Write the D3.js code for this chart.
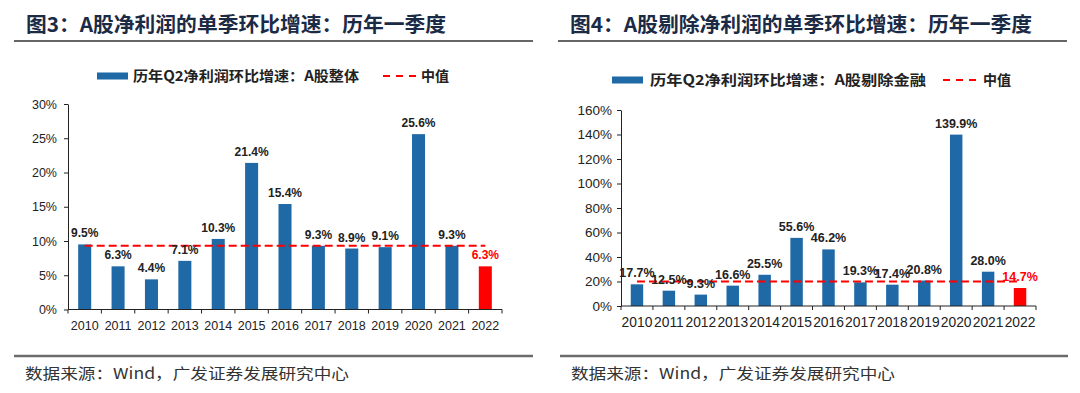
<!DOCTYPE html>
<html>
<head>
<meta charset="utf-8">
<script src="https://cdn.jsdelivr.net/npm/d3@7"></script>
<style>
  body { margin: 0; background: #fff; }
  svg text { font-family: "Liberation Sans", Arial, sans-serif; }
  .cjk { font-family: "Noto Sans CJK SC", "Liberation Sans", sans-serif; }
</style>
</head>
<body>
<svg id="chart" width="1080" height="393"></svg>
<script>
// data
var years = ["2010","2011","2012","2013","2014","2015","2016","2017","2018","2019","2020","2021","2022"];
var growthAll = [9.5, 6.3, 4.4, 7.1, 10.3, 21.4, 15.4, 9.3, 8.9, 9.1, 25.6, 9.3, 6.3];
var growthExFin = [17.7, 12.5, 9.3, 16.6, 25.5, 55.6, 46.2, 19.3, 17.4, 20.8, 139.9, 28.0, 14.7];
var medianAll = 9.3;
var medianExFin = 20.0;
var ticksAll = [0, 5, 10, 15, 20, 25, 30];
var ticksExFin = [0, 20, 40, 60, 80, 100, 120, 140, 160];

var BLUE = "#1f69a6", RED = "#ff0000";

var svg = d3.select("#chart");
svg.append("rect").attr("width", 1080).attr("height", 393).attr("fill", "#fff");

function drawPanel(cfg) {
  var g = svg.append("g");

  // title + rule
  g.append("text").attr("class", "cjk")
      .attr("x", cfg.titleX).attr("y", 32)
      .attr("font-size", 20.5).attr("font-weight", 700)
      .attr("fill", "#1b2a45")
      .attr("textLength", cfg.titleLen).attr("lengthAdjust", "spacingAndGlyphs")
      .text(cfg.title);
  g.append("line")
      .attr("x1", cfg.ruleX[0]).attr("x2", cfg.ruleX[1])
      .attr("y1", 41).attr("y2", 41)
      .attr("stroke", "#333").attr("stroke-width", 1.3);

  // legend
  var ly = cfg.legendY;
  g.append("rect").attr("x", cfg.legend[0]).attr("y", ly - 3.5)
      .attr("width", 31).attr("height", 7).attr("fill", BLUE);
  g.append("text").attr("class", "cjk")
      .attr("x", cfg.legend[1]).attr("y", ly + 5)
      .attr("font-size", 14).attr("font-weight", 700).attr("fill", "#222")
      .attr("textLength", cfg.legendLen).attr("lengthAdjust", "spacingAndGlyphs")
      .text(cfg.legendText);
  g.append("line")
      .attr("x1", cfg.legend[2]).attr("x2", cfg.legend[2] + 33)
      .attr("y1", ly).attr("y2", ly)
      .attr("stroke", RED).attr("stroke-width", 2).attr("stroke-dasharray", "7,6");
  g.append("text").attr("class", "cjk")
      .attr("x", cfg.legend[3]).attr("y", ly + 5)
      .attr("font-size", 14).attr("font-weight", 700).attr("fill", "#222")
      .text("中值");

  var x = d3.scaleBand().domain(years).range(cfg.xRange).padding(0);
  var y = d3.scaleLinear().domain([0, cfg.ticks[cfg.ticks.length - 1]]).range(cfg.yRange);
  var bw = x.bandwidth() * 0.39;

  // y axis
  var ya = g.append("g")
      .attr("transform", "translate(" + cfg.xRange[0] + ",0)")
      .call(d3.axisLeft(y).tickValues(cfg.ticks).tickSize(4).tickSizeOuter(0).tickPadding(cfg.yPad)
        .tickFormat(function(d) { return d + "%"; }));
  ya.select(".domain").attr("stroke", "#222");
  ya.selectAll("line").attr("stroke", "#222");
  ya.selectAll("text").attr("font-size", cfg.yFont).attr("fill", "#222")
      .attr("font-family", "Liberation Sans, Arial, sans-serif");

  // bars
  var data = years.map(function(yr, i) { return {year: yr, v: cfg.values[i], last: i === years.length - 1}; });
  g.selectAll(".bar").data(data).enter().append("rect")
      .attr("class", "bar")
      .attr("x", function(d) { return x(d.year) + (x.bandwidth() - bw) / 2; })
      .attr("y", function(d) { return y(d.v); })
      .attr("width", bw)
      .attr("height", function(d) { return y(0) - y(d.v); })
      .attr("fill", function(d) { return d.last ? RED : BLUE; });

  // x axis with ticks on band edges
  g.append("line")
      .attr("x1", cfg.xRange[0]).attr("x2", cfg.xRange[1])
      .attr("y1", y(0)).attr("y2", y(0))
      .attr("stroke", "#222");
  g.selectAll(".xt").data(years.concat(["end"])).enter().append("line")
      .attr("x1", function(d) { return d === "end" ? cfg.xRange[1] : x(d); })
      .attr("x2", function(d) { return d === "end" ? cfg.xRange[1] : x(d); })
      .attr("y1", y(0)).attr("y2", y(0) + 4)
      .attr("stroke", "#222");
  g.selectAll(".xl").data(years).enter().append("text")
      .attr("x", function(d) { return x(d) + x.bandwidth() / 2; })
      .attr("y", cfg.xLabelY)
      .attr("text-anchor", "middle")
      .attr("font-size", cfg.xFont).attr("fill", "#222")
      .text(function(d) { return d; });

  // median line, category centre to centre
  g.append("line")
      .attr("x1", x(years[0]) + x.bandwidth() / 2)
      .attr("x2", x(years[years.length - 1]) + x.bandwidth() / 2)
      .attr("y1", y(cfg.median)).attr("y2", y(cfg.median))
      .attr("stroke", RED).attr("stroke-width", 2).attr("stroke-dasharray", "8,4");

  // value labels
  g.selectAll(".vl").data(data).enter().append("text")
      .attr("x", function(d) { return x(d.year) + x.bandwidth() / 2; })
      .attr("y", function(d) { return y(d.v) - 7; })
      .attr("text-anchor", "middle")
      .attr("font-size", cfg.labelFont).attr("font-weight", 700)
      .attr("fill", function(d) { return d.last ? RED : "#222"; })
      .text(function(d) { return d.v.toFixed(1) + "%"; });

  // source + bottom rule
  g.append("line")
      .attr("x1", cfg.bottomRule[0]).attr("x2", cfg.bottomRule[1])
      .attr("y1", 356).attr("y2", 356)
      .attr("stroke", "#6b6b6b").attr("stroke-width", 2.3);
  g.append("text").attr("class", "cjk")
      .attr("x", cfg.sourceX).attr("y", 379)
      .attr("font-size", 15).attr("fill", "#333")
      .attr("textLength", 324).attr("lengthAdjust", "spacingAndGlyphs")
      .text("数据来源：Wind，广发证券发展研究中心");
}

drawPanel({
  title: "图3：A股净利润的单季环比增速：历年一季度",
  titleX: 26, titleLen: 420,
  ruleX: [14, 533],
  legendY: 76, legend: [97, 133, 383, 421], legendLen: 226,
  legendText: "历年Q2净利润环比增速：A股整体",
  xRange: [68, 502], yRange: [309.5, 104],
  ticks: ticksAll, values: growthAll, median: medianAll,
  yPad: 7, yFont: 12.5, xFont: 12.5, xLabelY: 330, labelFont: 12,
  bottomRule: [14, 533], sourceX: 25
});

drawPanel({
  title: "图4：A股剔除净利润的单季环比增速：历年一季度",
  titleX: 570, titleLen: 462,
  ruleX: [558, 1067],
  legendY: 80, legend: [612, 650, 943, 983], legendLen: 276,
  legendText: "历年Q2净利润环比增速：A股剔除金融",
  xRange: [621, 1036], yRange: [306, 110],
  ticks: ticksExFin, values: growthExFin, median: medianExFin,
  yPad: 5, yFont: 13.5, xFont: 13.8, xLabelY: 327, labelFont: 12.5,
  bottomRule: [560, 1068], sourceX: 571
});
</script>
</body>
</html>
